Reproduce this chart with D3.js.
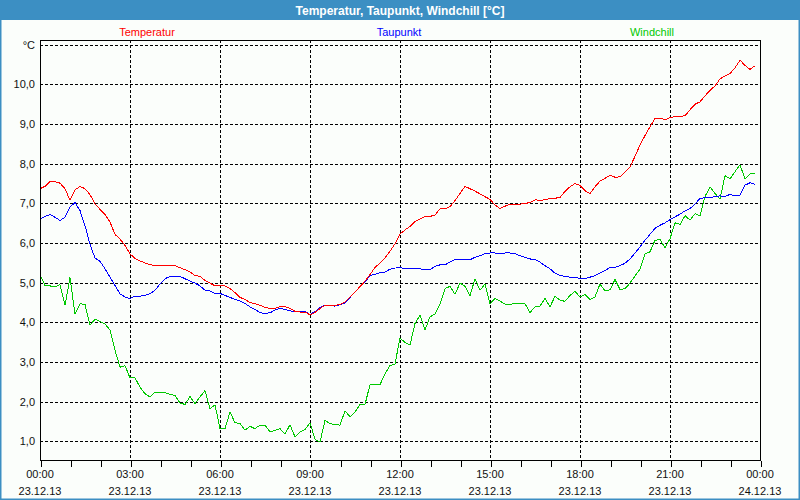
<!DOCTYPE html>
<meta charset="utf-8">
<style>
body { margin: 0; background: #fbfefb; }
svg { display: block; font-family: "Liberation Sans", Arial, sans-serif; }
.axis text { font-size: 11px; fill: #111; }
.grid line { stroke: #000; stroke-dasharray: 3,2; shape-rendering: crispEdges; }
.series { fill: none; stroke-width: 1; shape-rendering: crispEdges; }
</style>
<svg width="800" height="500" id="chart"></svg>
<script src="https://d3js.org/d3.v7.min.js"></script>
<script>
// Messwerte alle 10 Minuten ab 23.12.13 00:00
var temperatur = [
  7.37,7.43,7.55,7.55,7.51,7.37,7.08,7.34,7.43,7.37,7.22,6.99,6.85,6.72,6.53,6.22,
  6.10,5.94,5.73,5.61,5.55,5.50,5.45,5.44,5.44,5.44,5.44,5.43,5.38,5.33,5.27,5.18,
  5.16,5.06,4.99,4.92,4.92,
  4.92,4.85,4.75,4.63,4.58,4.50,4.47,4.43,4.38,4.35,4.35,4.40,4.40,4.35,4.28,4.26,
  4.26,4.19,4.25,4.35,4.43,4.43,4.43,4.45,4.51,4.64,4.77,4.90,5.04,5.21,5.38,5.50,
  5.63,5.79,5.98,
  6.23,6.33,6.42,6.54,6.61,6.67,6.67,6.71,6.86,6.86,6.92,7.07,7.25,7.43,7.37,7.31,
  7.24,7.17,7.10,6.96,6.87,6.93,6.98,6.98,6.98,7.00,7.02,7.09,7.08,7.09,7.13,7.13,
  7.15,7.30,7.42,7.50,7.45,
  7.32,7.25,7.42,7.56,7.63,7.71,7.66,7.67,7.79,7.91,8.19,8.47,8.71,8.93,9.14,9.15,
  9.11,9.16,9.19,9.19,9.21,9.36,9.50,9.56,9.71,9.85,9.96,10.14,10.21,10.27,10.42,10.61,
  10.48,10.38,10.47
];
var taupunkt = [
  6.61,6.67,6.72,6.65,6.57,6.65,6.91,7.02,6.82,6.44,5.97,5.62,5.54,5.35,5.14,4.93,
  4.72,4.64,4.60,4.66,4.66,4.68,4.72,4.81,4.97,5.10,5.16,5.17,5.16,5.10,5.04,4.99,
  4.92,4.81,4.79,4.73,4.73,4.68,4.63,4.58,4.54,4.48,4.39,4.33,4.24,4.23,4.24,4.31,
  4.35,4.33,4.29,4.27,4.27,4.27,4.20,4.27,4.37,4.43,4.43,4.41,4.45,4.49,4.63,4.77,
  4.89,5.02,5.18,5.21,5.25,
  5.27,5.34,5.37,
  5.38,5.36,5.35,5.35,5.35,5.33,5.33,5.41,5.45,5.45,5.52,5.58,5.58,5.58,5.58,5.64,
  5.68,5.73,5.75,5.75,5.73,5.75,5.75,5.73,5.68,5.64,5.60,5.58,5.52,5.43,5.35,5.24,
  5.18,5.16,5.14,5.14,5.10,
  5.10,5.14,5.18,5.24,5.31,5.38,5.39,5.43,5.49,5.60,5.75,5.90,6.07,6.22,6.37,6.45,
  6.51,6.59,6.66,6.73,6.81,6.87,6.98,7.13,7.14,7.15,7.17,7.19,7.17,7.23,7.19,7.21,
  7.46,7.52,7.48
];
var windchill = [
  5.21,4.93,4.92,4.89,4.95,4.43,5.13,4.21,4.47,4.45,3.93,4.08,4.02,3.96,3.81,3.30,
  2.87,2.91,2.60,2.60,2.37,2.20,2.12,2.24,2.23,2.23,2.18,2.16,1.97,1.93,2.13,1.95,
  2.12,2.28,1.82,1.92,1.32,1.32,1.74,1.47,1.45,1.28,1.38,1.32,1.41,1.41,1.24,1.28,
  1.32,1.18,1.42,1.11,1.24,1.30,1.47,1.05,0.98,1.53,1.45,1.42,1.41,1.77,1.62,1.74,
  1.93,1.93,
  2.43,2.43,2.43,2.70,2.91,2.95,
  3.61,3.49,3.43,3.97,4.18,3.81,4.14,4.21,4.47,4.85,4.91,4.71,4.99,4.91,4.67,5.10,
  4.81,4.97,4.47,4.60,4.54,4.46,4.46,4.47,4.47,4.47,4.25,4.39,4.41,4.60,4.39,4.66,
  4.56,4.53,4.68,4.78,
  4.64,4.70,4.58,4.64,4.97,4.79,4.82,5.08,4.83,4.85,4.99,5.17,5.34,5.73,5.78,6.07,
  6.09,5.88,6.11,6.51,6.47,6.69,6.58,6.74,6.69,7.17,7.42,7.25,7.11,7.70,7.62,7.80,
  7.97,7.62,7.74,7.76
];
var seriesNames = ["Temperatur", "Taupunkt", "Windchill"];
var seriesColors = ["#ff0000", "#0000ff", "#00c800"];
var yTicks = [1, 2, 3, 4, 5, 6, 7, 8, 9, 10];
var yUnit = "°C";
var title = "Temperatur, Taupunkt, Windchill [°C]";
var start = new Date(2013, 11, 23, 0, 0), end = new Date(2013, 11, 24, 0, 0);
var stepMinutes = 10;

var svg = d3.select("#chart"),
    margin = {top: 40, right: 40, bottom: 40, left: 40},
    width = +svg.attr("width"),
    height = +svg.attr("height");

// rahmen + titelleiste
svg.append("rect").attr("x", 0.5).attr("y", 0.5).attr("width", width - 1).attr("height", height - 1)
   .attr("fill", "#fbfefb").attr("stroke", "#3c8fc3").attr("stroke-width", 2);
svg.append("rect").attr("x", 0).attr("y", 0).attr("width", width).attr("height", 20).attr("fill", "#3c8fc3");
svg.append("text").attr("x", width / 2).attr("y", 15).attr("text-anchor", "middle")
   .attr("fill", "#fff").attr("font-weight", "bold").attr("font-size", "12px").text(title);

var x = d3.scaleTime().domain([start, end]).range([margin.left, width - margin.right]);
var y = d3.scaleLinear().domain([0.53, 11.12]).range([height - margin.bottom, margin.top]);

// gitter
var grid = svg.append("g").attr("class", "grid");
grid.selectAll("line.h").data(yTicks.concat([11])).enter().append("line")
   .attr("x1", x(start)).attr("x2", x(end))
   .attr("y1", d => Math.round(y(d)) + 0.5).attr("y2", d => Math.round(y(d)) + 0.5);
grid.selectAll("line.v").data(d3.timeHour.every(3).range(d3.timeHour.offset(start, 3), end)).enter().append("line")
   .attr("x1", d => Math.round(x(d)) + 0.5).attr("x2", d => Math.round(x(d)) + 0.5)
   .attr("y1", y.range()[1]).attr("y2", y.range()[0]);

// linien
var fmtNum = d3.format(".1f");
var allSeries = [temperatur, taupunkt, windchill];
[2, 1, 0].forEach(function(i) {
  var line = d3.line()
     .x((d, k) => x(d3.timeMinute.offset(start, k * stepMinutes)))
     .y(d => y(d));
  svg.append("path").attr("class", "series").attr("stroke", seriesColors[i]).attr("d", line(allSeries[i]));
});

// plotrahmen
svg.append("rect").attr("x", margin.left + 0.5).attr("y", margin.top + 0.5)
   .attr("width", width - margin.left - margin.right).attr("height", height - margin.top - margin.bottom)
   .attr("fill", "none").attr("stroke", "#000").attr("shape-rendering", "crispEdges");

// x-achse
var xAxis = svg.append("g").attr("class", "axis")
   .attr("transform", `translate(0.5,${height - margin.bottom + 0.5})`)
   .call(d3.axisBottom(x).ticks(d3.timeHour.every(1)).tickSize(6).tickFormat(""));
xAxis.select(".domain").remove();
xAxis.selectAll("line").attr("stroke", "#000").attr("shape-rendering", "crispEdges");
var labelTimes = d3.timeHour.every(3).range(start, d3.timeHour.offset(end, 1));
var xl = svg.append("g").attr("class", "axis").selectAll("text").data(labelTimes).enter().append("text")
   .attr("x", d => x(d)).attr("text-anchor", "middle");
xl.append("tspan").attr("x", d => x(d)).attr("y", 478).text(d3.timeFormat("%H:%M"));
xl.append("tspan").attr("x", d => x(d)).attr("y", 495).text(d3.timeFormat("%d.%m.%y"));

// y-achse
var yAxis = svg.append("g").attr("class", "axis")
   .attr("transform", `translate(${margin.left - 2},0)`)
   .call(d3.axisLeft(y).tickValues(yTicks.concat([11])).tickSize(0)
     .tickFormat(d => d === 11 ? yUnit : fmtNum(d).replace(".", ",")));
yAxis.select(".domain").remove();

// legende
var legendX = [147, 399, 652];
svg.append("g").selectAll("text").data(seriesNames).enter().append("text")
   .attr("x", (d, i) => legendX[i]).attr("y", 36).attr("text-anchor", "middle")
   .attr("font-size", "11px").attr("fill", (d, i) => seriesColors[i]).text(d => d);
</script>
